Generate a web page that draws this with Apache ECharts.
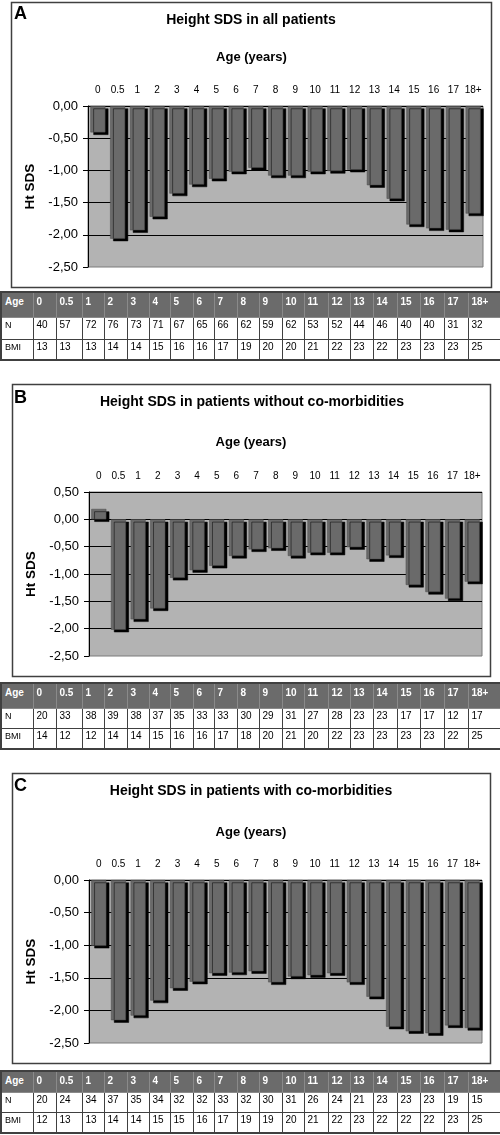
<!DOCTYPE html>
<html>
<head>
<meta charset="utf-8">
<script src="https://cdn.jsdelivr.net/npm/echarts@6/dist/echarts.min.js"></script>
<style>
html,body{margin:0;padding:0;background:#fff;}
#wrap{position:relative;width:500px;height:1135px;overflow:hidden;}
#chart{position:absolute;left:0;top:0;width:500px;height:1135px;}
table.dt{position:absolute;left:0;width:500px;table-layout:fixed;border-collapse:collapse;
  font-family:"Liberation Sans",Arial,sans-serif;font-size:10px;color:#000;border:2px solid #404040;}
table.dt td{padding:2px 0 0 3px;vertical-align:top;line-height:10px;overflow:hidden;white-space:nowrap;
  border:1px solid #404040;box-sizing:border-box;}
table.dt tr.hd td{background:#6b6b6b;color:#fff;font-weight:bold;border-color:#8a8a8a;padding-top:4px;}
table.dt td.lab{font-size:9px;}
</style>
</head>
<body>
<div id="wrap">
  <div id="chart"></div>
</div>
<script>
// ---- data ----
const ages = ['0','0.5','1','2','3','4','5','6','7','8','9','10','11','12','13','14','15','16','17','18+'];

const htAll     = [-0.41,-2.06,-1.93,-1.72,-1.36,-1.22,-1.13,-1.02,-0.96,-1.08,-1.08,-1.02,-1.01,-0.99,-1.23,-1.44,-1.84,-1.90,-1.92,-1.67];
const htWithout = [0.19,-2.02,-1.83,-1.63,-1.07,-0.93,-0.85,-0.67,-0.55,-0.53,-0.67,-0.61,-0.61,-0.51,-0.73,-0.66,-1.20,-1.33,-1.45,-1.14];
const htWith    = [-1.01,-2.15,-2.08,-1.85,-1.66,-1.56,-1.43,-1.42,-1.40,-1.57,-1.48,-1.46,-1.43,-1.57,-1.79,-2.25,-2.32,-2.35,-2.23,-2.27];

const nAll       = [40,57,72,76,73,71,67,65,66,62,59,62,53,52,44,46,40,40,31,32];
const bmiAll     = [13,13,13,14,14,15,16,16,17,19,20,20,21,22,23,22,23,23,23,25];
const nWithout   = [20,33,38,39,38,37,35,33,33,30,29,31,27,28,23,23,17,17,12,17];
const bmiWithout = [14,12,12,14,14,15,16,16,17,18,20,21,20,22,23,23,23,23,22,25];
const nWith      = [20,24,34,37,35,34,32,32,33,32,30,31,26,24,21,23,23,23,19,15];
const bmiWith    = [12,13,13,14,14,15,15,16,17,19,19,20,21,22,23,22,22,22,23,25];

const titles = ['Height SDS in all patients','Height SDS in patients without co-morbidities','Height SDS in patients with co-morbidities'];
const letters = ['A','B','C'];
const axisTitleX = 'Age (years)';
const axisTitleY = 'Ht SDS';
const yMin = -2.5;
const yMaxes = [0, 0.5, 0];
const yStep = 0.5;

// ---- layout (positions/styles only) ----
const FONT = '"Liberation Sans", Arial, sans-serif';
const panels = [
  {grid:{left:88, top:106, width:395, height:161}, box:[11,2,480,285], letter:[14,14], title:[251,20], age:[251.5,57],
   table:{top:291, rows:[25,22,21]}},
  {grid:{left:89, top:492, width:393, height:164}, box:[12,384,478,292], letter:[14,398], title:[252,402], age:[251,442],
   table:{top:682, rows:[25,20,21]}},
  {grid:{left:89, top:880, width:393, height:163}, box:[12,773,478,290], letter:[14,786.5], title:[251,791], age:[251,832],
   table:{top:1070, rows:[21,20,21]}}
];
const seriesData = [htAll, htWithout, htWith];
const tableData = [[nAll,bmiAll],[nWithout,bmiWithout],[nWith,bmiWith]];
const colWidths = [32,23,26,22,23,22,21,23,21,23,22,23,22,24,22,23,24,23,24,24,33];

const grids = [], xAxes = [], yAxes = [], series = [], graphics = [];
panels.forEach((p, i) => {
  grids.push(Object.assign({show:true, backgroundColor:'#b3b3b3', borderColor:'#7a7a7a', borderWidth:1}, p.grid));
  xAxes.push({
    gridIndex:i, type:'category', data:ages, position:'top',
    axisLine:{show:false, onZero:false}, axisTick:{show:false}, splitLine:{show:false},
    axisLabel:{interval:0, color:'#000', fontSize:10, fontFamily:FONT, margin:11}
  });
  yAxes.push({
    gridIndex:i, type:'value', min:yMin, max:yMaxes[i], interval:yStep,
    axisLine:{show:true, lineStyle:{color:'#000', width:1}},
    axisTick:{show:true, length:5, lineStyle:{color:'#000'}},
    axisLabel:{color:'#000', fontSize:13, fontFamily:FONT, margin:10,
      formatter: v => v.toFixed(2).replace('.', ',')},
    splitLine:{show:true, showMinLine:false, lineStyle:{color:'#000', width:1}},
    name:axisTitleY, nameLocation:'middle', nameRotate:90, nameGap:50,
    nameTextStyle:{color:'#000', fontWeight:'bold', fontSize:13.5, fontFamily:FONT}
  });
  series.push({
    type:'bar', xAxisIndex:i, yAxisIndex:i, data:seriesData[i], barWidth:15,
    itemStyle:{color:'#6a6a6a', borderColor:'#4a4a4a', borderWidth:0.5,
      shadowColor:'#000', shadowBlur:0, shadowOffsetX:3, shadowOffsetY:2.5},
    emphasis:{disabled:true}, silent:true
  });
  const b = p.box;
  graphics.push({type:'rect', shape:{x:b[0]+0.5, y:b[1]+0.5, width:b[2], height:b[3]},
    style:{fill:'none', stroke:'#404040', lineWidth:1.5}, z:100});
  graphics.push({type:'text', x:p.letter[0], y:p.letter[1],
    style:{text:letters[i], font:'bold 18px ' + FONT, fill:'#000', align:'left', verticalAlign:'middle'}, z:100});
  graphics.push({type:'text', x:p.title[0], y:p.title[1],
    style:{text:titles[i], font:'bold 14px ' + FONT, fill:'#000', align:'center', verticalAlign:'middle'}, z:100});
  graphics.push({type:'text', x:p.age[0], y:p.age[1],
    style:{text:axisTitleX, font:'bold 13px ' + FONT, fill:'#000', align:'center', verticalAlign:'middle'}, z:100});
});

const chart = echarts.init(document.getElementById('chart'), null, {renderer:'canvas'});
chart.setOption({
  animation:false,
  backgroundColor:'#fff',
  grid:grids, xAxis:xAxes, yAxis:yAxes, series:series, graphic:graphics
});

// ---- data tables under each panel ----
const wrap = document.getElementById('wrap');
panels.forEach((p, i) => {
  const t = document.createElement('table');
  t.className = 'dt';
  t.style.top = p.table.top + 'px';
  const cg = document.createElement('colgroup');
  colWidths.forEach(w => { const c = document.createElement('col'); c.style.width = w + 'px'; cg.appendChild(c); });
  t.appendChild(cg);
  const rowsDef = [
    {label:'Age', vals:ages, cls:'hd'},
    {label:'N', vals:tableData[i][0], cls:''},
    {label:'BMI', vals:tableData[i][1], cls:''}
  ];
  rowsDef.forEach((r, k) => {
    const tr = document.createElement('tr');
    if (r.cls) tr.className = r.cls;
    tr.style.height = p.table.rows[k] + 'px';
    const th = document.createElement('td');
    th.textContent = r.label;
    if (!r.cls) th.className = 'lab';
    tr.appendChild(th);
    r.vals.forEach(v => { const td = document.createElement('td'); td.textContent = String(v); tr.appendChild(td); });
    t.appendChild(tr);
  });
  wrap.appendChild(t);
});
</script>
</body>
</html>
